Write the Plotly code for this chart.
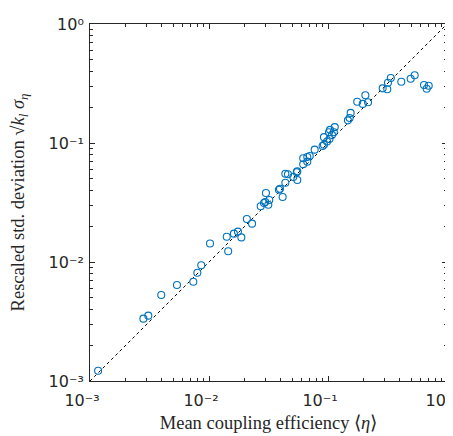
import plotly.graph_objects as go

mean_eta = [0.337, 0.319, 0.288, 0.315, 0.413, 0.495, 0.535, 0.641, 0.702, 0.675,
            0.206, 0.176, 0.196, 0.217, 0.155, 0.152, 0.147, 0.114, 0.104, 0.102,
            0.112, 0.108, 0.0925, 0.103, 0.0982, 0.0925, 0.0901, 0.0773, 0.0702, 0.0670,
            0.0619, 0.0670, 0.0619, 0.0552, 0.0546, 0.0438, 0.0461, 0.0511, 0.0552, 0.0438,
            0.0395, 0.0387, 0.0416, 0.0301, 0.0297, 0.0321, 0.0272, 0.0290, 0.0315, 0.0208,
            0.0230, 0.0141, 0.0162, 0.0175, 0.0187, 0.0145, 0.0102, 0.00861, 0.00798, 0.00738,
            0.00538, 0.00397, 0.00309, 0.00281, 0.00117]
rescaled_std = [0.352, 0.321, 0.288, 0.283, 0.327, 0.347, 0.371, 0.307, 0.303, 0.286,
                0.252, 0.222, 0.213, 0.220, 0.179, 0.162, 0.155, 0.136, 0.129, 0.123,
                0.123, 0.117, 0.112, 0.108, 0.103, 0.0968, 0.0944, 0.0879, 0.0778, 0.0762,
                0.0744, 0.0697, 0.0662, 0.0578, 0.0567, 0.0552, 0.0546, 0.0518, 0.0489, 0.0464,
                0.0413, 0.0405, 0.0352, 0.0380, 0.0319, 0.0332, 0.0294, 0.0313, 0.0303, 0.0230,
                0.0210, 0.0163, 0.0173, 0.0180, 0.0161, 0.0123, 0.0143, 0.00938, 0.00813, 0.00683,
                0.00641, 0.00528, 0.00354, 0.00334, 0.00122]

ref_line = [0.001, 1.0]
tick_vals = [0.001, 0.01, 0.1, 1.0]
tick_text = ["10⁻³", "10⁻²", "10⁻¹", "10⁰"]
minor_vals = [m * d for d in (0.001, 0.01, 0.1) for m in range(2, 10)]

fig = go.Figure()
fig.add_trace(go.Scatter(x=ref_line, y=ref_line, mode="lines",
                         line=dict(color="black", width=1, dash="dot"),
                         hoverinfo="skip", showlegend=False))
fig.add_trace(go.Scatter(x=mean_eta, y=rescaled_std, mode="markers",
                         marker=dict(symbol="circle-open", size=7,
                                     color="#0072BD", line=dict(width=1.1, color="#0072BD")),
                         showlegend=False))

axis_common = dict(
    type="log", range=[-3, 0], tickvals=tick_vals, ticktext=tick_text,
    ticks="inside", ticklen=5, tickcolor="#262626", tickwidth=1,
    showline=True, linecolor="#262626", linewidth=1, mirror="allticks",
    showgrid=False, zeroline=False, automargin=False,
    tickfont=dict(family="DejaVu Sans, Liberation Sans, Arial, sans-serif", size=16, color="#262626"),
    minor=dict(tickvals=minor_vals, ticks="inside", ticklen=3, tickcolor="#262626", showgrid=False),
)

title_font = dict(family="Liberation Serif, Times New Roman, serif", size=18.5, color="#262626")

fig.update_xaxes(**axis_common, ticklabelshift=-8, ticklabelstandoff=5,
                 title=dict(text="Mean coupling efficiency ⟨<i>η</i>⟩", font=title_font, standoff=6))
fig.update_yaxes(**axis_common, ticklabelstandoff=2,
                 title=dict(text="Rescaled std. deviation √<i>k<sub>l</sub></i> <i>σ<sub>η</sub></i>",
                            font=title_font, standoff=22))

fig.update_layout(width=453, height=436,
                  margin=dict(l=82, r=14, t=16, b=63),
                  plot_bgcolor="white", paper_bgcolor="white")

fig.write_html("out.html")
